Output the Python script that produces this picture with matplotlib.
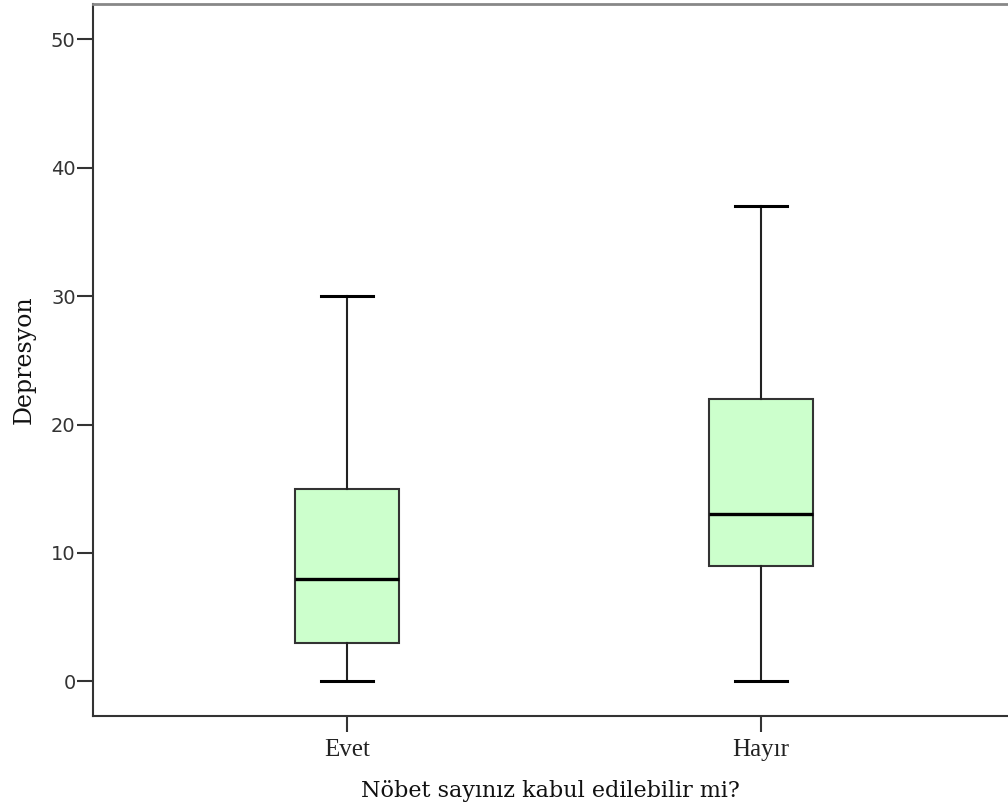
import matplotlib
matplotlib.use("Agg")
import matplotlib.pyplot as plt

# box statistics
groups = ["Evet", "Hayır"]
whislo = [0, 0]
q1 = [3, 9]
med = [8, 13]
q3 = [15, 22]
whishi = [30, 37]

stats = []
for i, g in enumerate(groups):
    stats.append(dict(label=g, whislo=whislo[i], q1=q1[i], med=med[i],
                      q3=q3[i], whishi=whishi[i], fliers=[]))

fig = plt.figure(figsize=(10.08, 8.09), dpi=100)
W, H = 1008, 809
left, right, top, bottom = 93, 1008, 4, 716
ax = fig.add_axes([left / W, 1 - bottom / H, (right - left) / W, (bottom - top) / H])

ax.bxp(stats, positions=[0, 1], widths=0.252, patch_artist=True,
       boxprops=dict(facecolor="#CCFFCC", edgecolor="#333333", linewidth=1.5),
       medianprops=dict(color="black", linewidth=2.4),
       whiskerprops=dict(color="#222222", linewidth=1.5),
       capprops=dict(color="black", linewidth=2.2),
       capwidths=0.125, showfliers=False)

ax.set_xlim(-0.6135, 1.5966)
ax.set_ylim(-2.7, 52.75)
ax.set_yticks([0, 10, 20, 30, 40, 50])

for s in ["left", "bottom"]:
    ax.spines[s].set_color("#333333")
    ax.spines[s].set_linewidth(1.5)
ax.spines["top"].set_color("#888888")
ax.spines["top"].set_linewidth(2)
ax.spines["right"].set_visible(False)

ax.tick_params(axis="both", length=11.5, width=1.5, color="#333333")
ax.tick_params(axis="y", labelsize=14, labelcolor="#333333", pad=1)
ax.tick_params(axis="x", pad=5)
ax.set_xticks([0, 1])
ax.set_xticklabels(groups, family="Liberation Serif", fontsize=18, color="#222222")

ax.set_ylabel("Depresyon", family="DejaVu Serif", fontsize=17, color="#111111", labelpad=11)
ax.set_xlabel("Nöbet sayınız kabul edilebilir mi?", family="DejaVu Serif", fontsize=16,
              color="#111111", labelpad=14)

fig.savefig("out.png", dpi=100)
